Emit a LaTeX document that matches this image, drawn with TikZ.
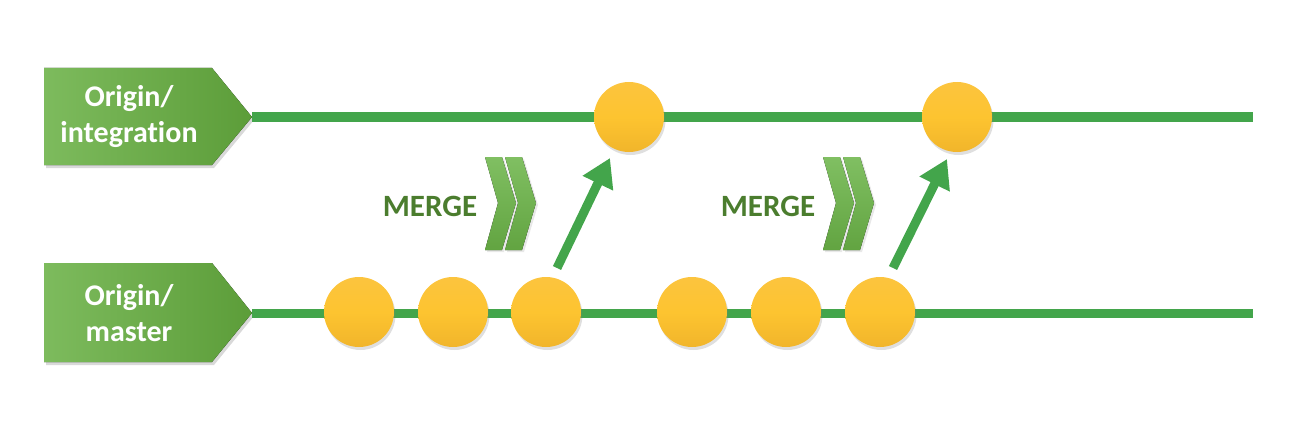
\documentclass[tikz,border=0pt]{standalone}
\usepackage{fontspec}
\setmainfont[Ligatures={NoCommon,NoRequired,NoContextual}]{Carlito}
\usetikzlibrary{arrows.meta,shadows}
\definecolor{lineg}{HTML}{43A54B}
\definecolor{labL}{HTML}{7DBB5D}
\definecolor{labR}{HTML}{5C9D39}
\definecolor{mergeg}{HTML}{4B7D2E}
\definecolor{chevT}{HTML}{80BF62}
\definecolor{chevB}{HTML}{62A441}
\definecolor{circT}{HTML}{FCC43E}
\definecolor{circM}{HTML}{FDC430}
\definecolor{circB}{HTML}{F1B52B}
\tikzset{
  branch/.style={draw=lineg, line width=9pt},
  commit/.style={circle, minimum size=70pt, inner sep=0pt, top color=circT, bottom color=circB, middle color=circM,
     drop shadow={opacity=0.25, shadow xshift=1.5pt, shadow yshift=-3pt}},
  labelbox/.style={left color=labL, right color=labR, drop shadow={opacity=0.3, shadow xshift=2pt, shadow yshift=-3pt}},
  labeltext/.style={text=white, font=\bfseries\fontsize{30}{36}\selectfont, align=center},
  mergetext/.style={text=mergeg, font=\bfseries\fontsize{31}{36}\selectfont},
  chev/.style={top color=chevT, bottom color=chevB, drop shadow={opacity=0.18, shadow xshift=2pt, shadow yshift=-2pt}},
  mergearrow/.style={draw=lineg, line width=9pt, -{Triangle[length=28pt,width=32pt]}},
}
\begin{document}
\begin{tikzpicture}[x=1pt,y=1pt]
\useasboundingbox (0,0) rectangle (1306,432);
% label boxes
\fill[labelbox] (44,364) -- (212,364) -- (252,315) -- (212,267) -- (44,267) -- cycle;
\fill[labelbox] (44,169) -- (212,169) -- (252,119) -- (212,70) -- (44,70) -- cycle;
\node[labeltext] (lint) at (129,315) {Origin/\\integration};
\node[labeltext] (lmas) at (129,119) {Origin/\\master};
% branch lines
\coordinate (ts) at (252,315); \coordinate (te) at (1253,315);
\coordinate (bs) at (252,119); \coordinate (be) at (1253,119);
\draw[branch] (ts) -- (te);
\draw[branch] (bs) -- (be);
% commits
\node[commit] (i1) at (629,315) {};
\node[commit] (i2) at (957,315) {};
\node[commit] (m1) at (359,120) {};
\node[commit] (m2) at (453,120) {};
\node[commit] (m3) at (546,120) {};
\node[commit] (m4) at (692,120) {};
\node[commit] (m5) at (786,120) {};
\node[commit] (m6) at (880,120) {};
% merge arrows
\coordinate (a1s) at (557,164); \coordinate (a1e) at (610,274);
\coordinate (a2s) at (893,164); \coordinate (a2e) at (947,273);
\draw[mergearrow] (a1s) -- (a1e);
\draw[mergearrow] (a2s) -- (a2e);
% merge labels
\node[mergetext] (mg1) at (430,226) {MERGE};
\node[mergetext] (mg2) at (768,226) {MERGE};
% chevrons
\foreach \dx in {0,20,338,358}{
  \fill[chev] (485+\dx,275) -- (502+\dx,275) -- (516+\dx,229) -- (502+\dx,182) -- (485+\dx,182) -- (498+\dx,229) -- cycle;
}
\end{tikzpicture}
\end{document}
